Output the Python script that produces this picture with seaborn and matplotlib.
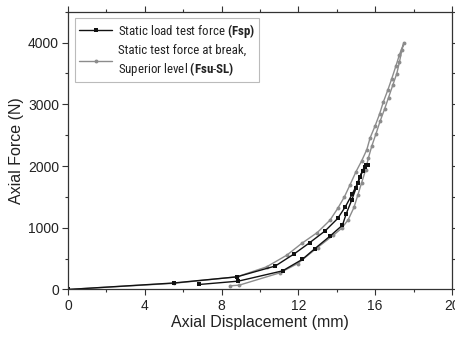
import matplotlib
matplotlib.use("Agg")
import matplotlib.pyplot as plt
import seaborn as sns
import pandas as pd
from matplotlib.ticker import MultipleLocator
from matplotlib.lines import Line2D

# Static load test force (Fsp): loading then unloading
fsp_x = [0, 5.5, 8.8, 10.8, 11.8, 12.6, 13.4, 14.05, 14.45, 14.8, 15.1, 15.35, 15.5, 15.65,
         15.45, 15.2, 15.0, 14.78, 14.5, 14.3, 13.65, 12.87, 12.2, 11.18, 8.87, 6.83]
fsp_y = [0, 105, 205, 380, 580, 760, 950, 1150, 1340, 1540, 1730, 1920, 2020, 2020,
         1990, 1825, 1636, 1447, 1230, 1042, 864, 664, 486, 302, 135, 81]

# Static test force at break, Superior level (Fsu-SL): loading then unloading
fsu_x = [0, 5.5, 8.8, 10.35, 11.4, 12.17, 12.99, 13.65, 14.05, 14.4, 14.7, 15.0, 15.3, 15.57,
         15.74, 16.0, 16.23, 16.43, 16.66, 16.87, 17.08, 17.27, 17.51,
         17.4, 17.27, 17.13, 16.92, 16.7, 16.49, 16.26, 16.05, 15.83, 15.65, 15.5, 15.3,
         15.1, 14.9, 14.6, 14.25, 13.83, 13.0, 11.97, 11.04, 8.92, 8.43]
fsu_y = [0, 100, 205, 367, 556, 745, 923, 1123, 1312, 1500, 1700, 1905, 2084, 2267,
         2456, 2650, 2840, 3039, 3228, 3417, 3617, 3806, 4000,
         3887, 3687, 3498, 3309, 3109, 2920, 2726, 2526, 2326, 2130, 1930, 1730,
         1530, 1330, 1130, 990, 880, 680, 421, 270, 70, 59]

x_ticks = [0, 4, 8, 12, 16, 20]
y_ticks = [0, 1000, 2000, 3000, 4000]

sns.set_theme(style="ticks")
plt.rcParams["font.family"] = ["Liberation Sans", "DejaVu Sans"]
plt.rcParams["mathtext.fontset"] = "custom"
plt.rcParams["mathtext.rm"] = "Roboto Condensed"
plt.rcParams["mathtext.bf"] = "Roboto Condensed:bold"

fig = plt.figure(figsize=(4.56, 3.38), dpi=100)
ax = fig.add_axes([0.149, 0.1435, 0.842, 0.822])

df1 = pd.DataFrame({"x": fsp_x, "y": fsp_y})
df2 = pd.DataFrame({"x": fsu_x, "y": fsu_y})

sns.lineplot(data=df2, x="x", y="y", sort=False, estimator=None, ax=ax,
             color="#8c8c8c", lw=1.0, marker="o", markersize=2.8,
             markeredgewidth=0, markerfacecolor="#8c8c8c")
sns.lineplot(data=df1, x="x", y="y", sort=False, estimator=None, ax=ax,
             color="#111111", lw=1.0, marker="s", markersize=2.3,
             markeredgewidth=0, markerfacecolor="#111111")

ax.set_xlim(0, 20)
ax.set_ylim(0, 4500)
ax.set_xticks(x_ticks)
ax.set_yticks(y_ticks)
ax.xaxis.set_minor_locator(MultipleLocator(2))
ax.yaxis.set_minor_locator(MultipleLocator(500))
ax.set_xticklabels([str(t) for t in x_ticks], fontsize=10, color="#222222")
ax.set_yticklabels([str(t) for t in y_ticks], fontsize=10, color="#222222")
ax.tick_params(which="major", direction="out", length=4, width=0.8, colors="#333333",
               labelcolor="#222222", pad=2.5)
ax.tick_params(which="minor", direction="out", length=2.5, width=0.8, colors="#333333")
ax.tick_params(which="both", top=True, right=True)
for sp in ax.spines.values():
    sp.set_linewidth(0.9)
    sp.set_color("#333333")

ax.set_xlabel("Axial Displacement (mm)", fontsize=11.5, color="#222222", labelpad=2)
ax.set_ylabel("Axial Force (N)", fontsize=11.5, color="#222222", labelpad=3)

handles = [
    Line2D([], [], color="#111111", lw=1.0, marker="s", markersize=2.3, markeredgewidth=0),
    Line2D([], [], color="#8c8c8c", lw=1.0, marker="o", markersize=2.8, markeredgewidth=0),
]
labels = [
    r"Static load test force $\bf{(Fsp)}$",
    "Static test force at break,\n" + r"Superior level $\bf{(Fsu}$" + "-" + r"$\bf{SL)}$",
]
leg = ax.legend(handles, labels, loc="upper left", bbox_to_anchor=(0.018, 0.977),
                borderaxespad=0, frameon=True, fancybox=False, handlelength=2.6,
                handletextpad=0.45, borderpad=0.3, labelspacing=0.3,
                prop={"family": ["Roboto Condensed", "Liberation Sans"], "size": 9.3})
for t in leg.get_texts():
    t.set_linespacing(1.25)
    t.set_color("#222222")
leg.get_frame().set_edgecolor("#aaaaaa")
leg.get_frame().set_linewidth(0.8)

fig.savefig("out.png", dpi=100)
